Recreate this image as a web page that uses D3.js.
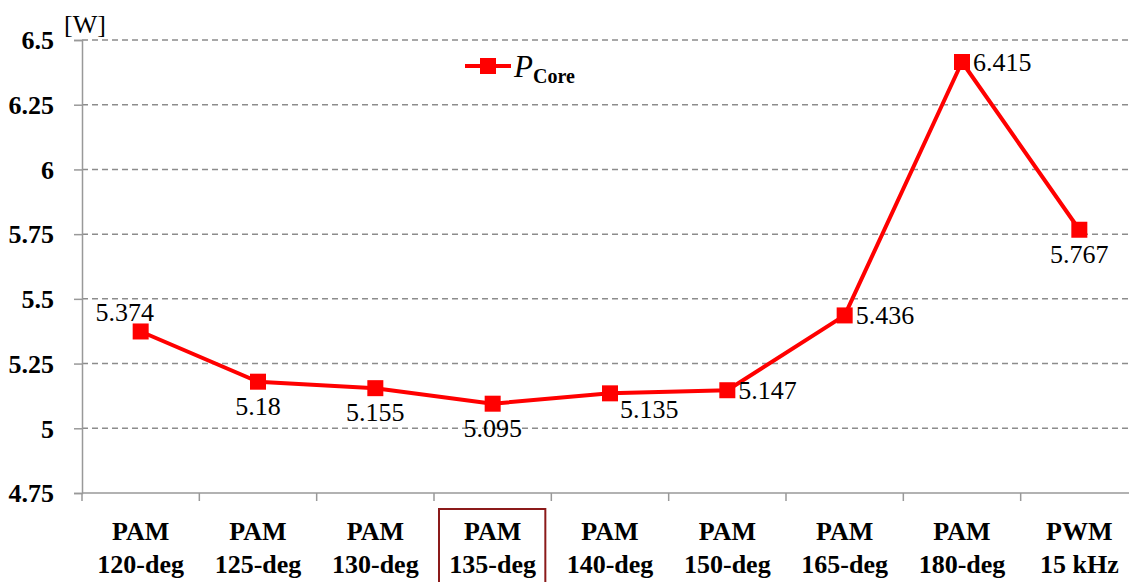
<!DOCTYPE html>
<html lang="en">
<head>
    <meta charset="UTF-8">
    <title>P Core chart</title>
    <script src="https://d3js.org/d3.v7.min.js"></script>
    <style>
        body { margin: 0; background: #fff; }
        svg { display: block; }
        svg text { font-family: "Liberation Serif", "Times New Roman", serif; }
    </style>
</head>
<body>
    <div id="chart"></div>
    <script>
        // data
        var modes = ["PAM", "PAM", "PAM", "PAM", "PAM", "PAM", "PAM", "PAM", "PWM"];
        var settings = ["120-deg", "125-deg", "130-deg", "135-deg", "140-deg", "150-deg", "165-deg", "180-deg", "15 kHz"];
        var pCore = [5.374, 5.18, 5.155, 5.095, 5.135, 5.147, 5.436, 6.415, 5.767];
        var labelPlace = ["above", "below", "below", "below", "belowRight", "right", "right", "right", "below"];
        var yTicks = [4.75, 5, 5.25, 5.5, 5.75, 6, 6.25, 6.5];
        var highlighted = "135-deg";

        var w = 1129;
        var h = 582;
        var plotLeft = 82, plotTop = 40, plotBottom = 493, plotRight = 1138;
        var serif = "Liberation Serif";

        var svg = d3.select("#chart")
            .append("svg")
            .attr("width", w)
            .attr("height", h)
            .attr("font-family", serif);

        var xScale = d3.scaleBand()
            .domain(settings)
            .range([plotLeft, plotRight])
            .padding(0);

        var yScale = d3.scaleLinear()
            .domain([4.75, 6.5])
            .range([plotBottom, plotTop]);

        // gridlines
        svg.append("g")
            .selectAll("line")
            .data(yTicks.filter(d => d > 4.75))
            .enter()
            .append("line")
            .attr("x1", plotLeft)
            .attr("x2", w)
            .attr("y1", d => yScale(d))
            .attr("y2", d => yScale(d))
            .attr("stroke", "#8c8c8c")
            .attr("stroke-width", 1.5)
            .attr("stroke-dasharray", "6,4");

        // y axis
        var yAxis = svg.append("g")
            .attr("transform", "translate(" + plotLeft + ",0)")
            .call(d3.axisLeft(yScale).tickValues(yTicks).tickSize(8).tickPadding(20).tickFormat(d3.format("")));
        yAxis.attr("font-family", serif);
        yAxis.select(".domain").attr("stroke", "#999").attr("stroke-width", 1.5);
        yAxis.selectAll(".tick line").attr("stroke", "#999").attr("stroke-width", 1.5);
        yAxis.selectAll(".tick text")
            .attr("font-size", "26px")
            .attr("font-weight", "bold")
            .attr("font-family", serif)
            .attr("fill", "#000")
            .attr("dy", "0.34em");

        // x axis line and ticks at band edges
        svg.append("line")
            .attr("x1", plotLeft).attr("x2", w)
            .attr("y1", plotBottom).attr("y2", plotBottom)
            .attr("stroke", "#999").attr("stroke-width", 1.5);
        svg.append("g")
            .selectAll("line")
            .data(settings)
            .enter()
            .append("line")
            .attr("x1", d => xScale(d))
            .attr("x2", d => xScale(d))
            .attr("y1", plotBottom)
            .attr("y2", plotBottom + 8)
            .attr("stroke", "#999").attr("stroke-width", 1.5);

        // category labels
        var cat = svg.append("g")
            .selectAll("text")
            .data(settings)
            .enter()
            .append("text")
            .attr("x", d => xScale(d) + xScale.bandwidth() / 2)
            .attr("text-anchor", "middle")
            .attr("font-family", serif)
            .attr("font-size", "26px")
            .attr("font-weight", "bold")
            .attr("fill", "#000");
        cat.append("tspan")
            .attr("x", d => xScale(d) + xScale.bandwidth() / 2)
            .attr("y", 540)
            .text((d, i) => modes[i]);
        cat.append("tspan")
            .attr("x", d => xScale(d) + xScale.bandwidth() / 2)
            .attr("y", 573)
            .text(d => d);

        // highlight box
        svg.append("rect")
            .attr("x", xScale(highlighted) + 5)
            .attr("y", 509)
            .attr("width", xScale.bandwidth() - 11)
            .attr("height", 90)
            .attr("fill", "none")
            .attr("stroke", "#8b1a1a")
            .attr("stroke-width", 2);

        // unit
        svg.append("text")
            .attr("x", 64)
            .attr("y", 33)
            .attr("font-family", serif)
            .attr("font-size", "26px")
            .attr("fill", "#000")
            .text("[W]");

        // line
        var cx = (d, i) => xScale(settings[i]) + xScale.bandwidth() / 2;
        var line = d3.line()
            .x(cx)
            .y(d => yScale(d));
        svg.append("path")
            .datum(pCore)
            .attr("d", line)
            .attr("fill", "none")
            .attr("stroke", "#ff0000")
            .attr("stroke-width", 4)
            .attr("stroke-linejoin", "round");

        svg.selectAll("rect.marker")
            .data(pCore)
            .enter()
            .append("rect")
            .attr("class", "marker")
            .attr("x", (d, i) => cx(d, i) - 8)
            .attr("y", d => yScale(d) - 8)
            .attr("width", 16)
            .attr("height", 16)
            .attr("fill", "#ff0000");

        // data labels
        var place = {
            above: { dx: -16, dy: -10, anchor: "middle" },
            below: { dx: 0, dy: 33, anchor: "middle" },
            belowRight: { dx: 10, dy: 25, anchor: "start" },
            right: { dx: 11, dy: 9, anchor: "start" }
        };
        svg.selectAll("text.val")
            .data(pCore)
            .enter()
            .append("text")
            .attr("class", "val")
            .attr("x", (d, i) => cx(d, i) + place[labelPlace[i]].dx)
            .attr("y", (d, i) => yScale(d) + place[labelPlace[i]].dy)
            .attr("text-anchor", (d, i) => place[labelPlace[i]].anchor)
            .attr("font-family", serif)
            .attr("font-size", "26px")
            .attr("fill", "#000")
            .text(d => d);

        // legend
        var lg = svg.append("g").attr("transform", "translate(465,66)");
        lg.append("line")
            .attr("x1", 0).attr("x2", 46)
            .attr("y1", 0).attr("y2", 0)
            .attr("stroke", "#ff0000").attr("stroke-width", 4);
        lg.append("rect")
            .attr("x", 15).attr("y", -8)
            .attr("width", 16).attr("height", 16)
            .attr("fill", "#ff0000");
        var lt = lg.append("text")
            .attr("x", 49)
            .attr("y", 11)
            .attr("font-family", serif)
            .attr("fill", "#000");
        lt.append("tspan")
            .attr("font-size", "31px")
            .attr("font-style", "italic")
            .text("P");
        lt.append("tspan")
            .attr("font-size", "20px")
            .attr("font-weight", "bold")
            .attr("dy", 6)
            .text("Core");
    </script>
</body>
</html>
